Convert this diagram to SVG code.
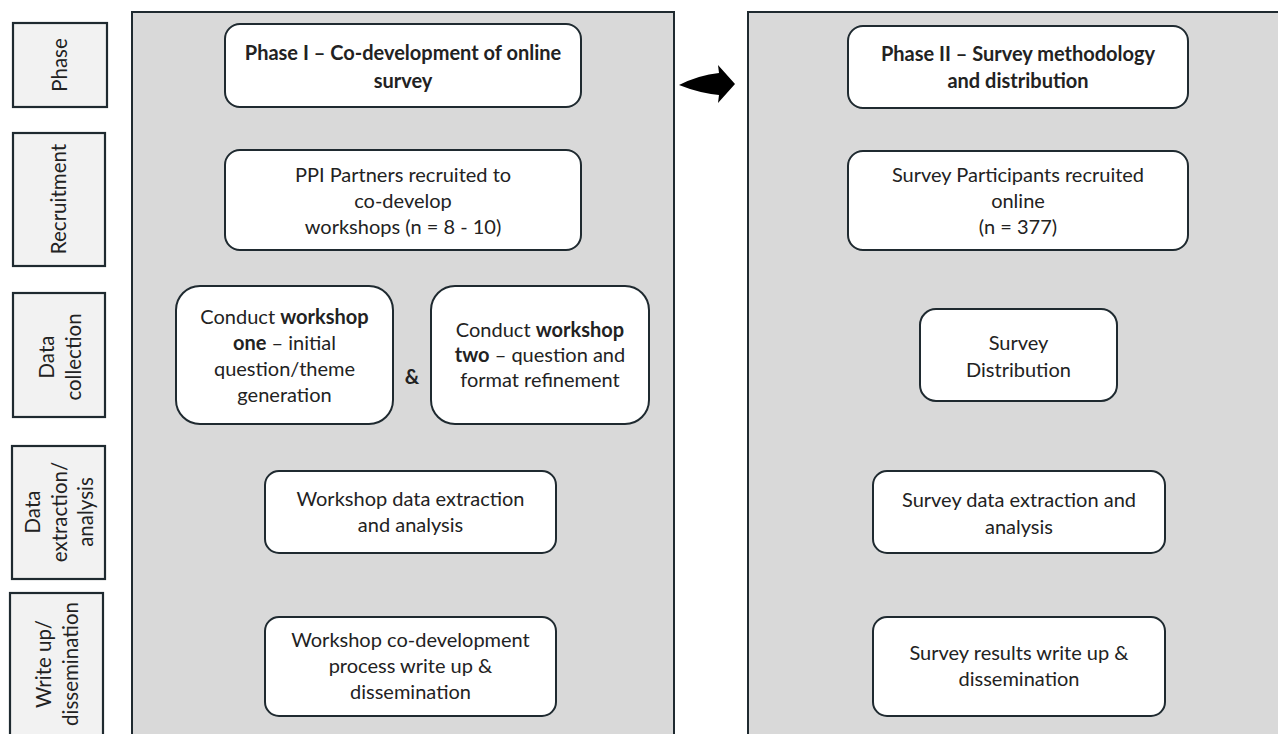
<svg xmlns="http://www.w3.org/2000/svg" width="1278" height="734" viewBox="0 0 1278 734">
<style>
.panel{fill:#d9d9d9;stroke:#1f2a30;stroke-width:2}
.lab{fill:#f2f2f2;stroke:#1f2a30;stroke-width:2.2}
.box{fill:#ffffff;stroke:#1f2a30;stroke-width:2}
text{font-family:Lato,"Open Sans",sans-serif;fill:#222;font-size:20px;text-anchor:middle}
.b{font-weight:bold}
.l{font-size:20.5px}
</style>
<rect x="0" y="0" width="1278" height="734" fill="#ffffff"/>
<g id="panel1"><rect class="panel" x="132" y="12" width="542" height="740"/></g>
<g id="panel2"><rect class="panel" x="748" y="12" width="540" height="740"/></g>

<g id="label-phase"><rect class="lab" x="13" y="23" width="94" height="84"/>
<text class="l" transform="translate(60,65) rotate(-90)" y="7">Phase</text></g>
<g id="label-recruitment"><rect class="lab" x="13" y="133" width="92" height="133"/>
<text class="l" transform="translate(59,199) rotate(-90)" y="7">Recruitment</text></g>
<g id="label-datacollection"><rect class="lab" x="13" y="293" width="92" height="124"/>
<text class="l" transform="translate(61,357) rotate(-90)"><tspan x="0" y="-7">Data</tspan><tspan x="0" y="20">collection</tspan></text></g>
<g id="label-dataextraction"><rect class="lab" x="12" y="446" width="93" height="133"/>
<text class="l" transform="translate(60,512) rotate(-90)"><tspan x="0" y="-20">Data</tspan><tspan x="0" y="7">extraction/</tspan><tspan x="0" y="33">analysis</tspan></text></g>
<g id="label-writeup"><rect class="lab" x="10" y="593" width="93" height="160"/>
<text class="l" transform="translate(58,664) rotate(-90)"><tspan x="0" y="-7">Write up/</tspan><tspan x="0" y="20">dissemination</tspan></text></g>

<g id="p1-title"><rect class="box" x="225" y="24" width="356" height="83" rx="15"/>
<text class="b"><tspan x="403" y="60">Phase I – Co-development of online</tspan><tspan x="403" y="88">survey</tspan></text></g>
<g id="p1-recruit"><rect class="box" x="225" y="150" width="356" height="100" rx="15"/>
<text><tspan x="403" y="182">PPI Partners recruited to</tspan><tspan x="403" y="208">co-develop</tspan><tspan x="403" y="234">workshops (n = 8 - 10)</tspan></text></g>
<g id="p1-ws1"><rect class="box" x="176" y="286" width="217" height="138" rx="24"/>
<text><tspan x="284.5" y="324">Conduct <tspan class="b">workshop</tspan></tspan><tspan x="284.5" y="350"><tspan class="b">one</tspan> – initial</tspan><tspan x="284.5" y="376">question/theme</tspan><tspan x="284.5" y="402">generation</tspan></text></g>
<g id="amp"><text class="b" x="412" y="384">&amp;</text></g>
<g id="p1-ws2"><rect class="box" x="431" y="286" width="218" height="138" rx="24"/>
<text><tspan x="540" y="337">Conduct <tspan class="b">workshop</tspan></tspan><tspan x="540" y="362"><tspan class="b">two</tspan> – question and</tspan><tspan x="540" y="387">format refinement</tspan></text></g>
<g id="p1-analysis"><rect class="box" x="265" y="471" width="291" height="82" rx="14"/>
<text><tspan x="410.5" y="506">Workshop data extraction</tspan><tspan x="410.5" y="532">and analysis</tspan></text></g>
<g id="p1-writeup"><rect class="box" x="265" y="617" width="291" height="99" rx="14"/>
<text><tspan x="410.5" y="647">Workshop co-development</tspan><tspan x="410.5" y="673">process write up &amp;</tspan><tspan x="410.5" y="699">dissemination</tspan></text></g>

<g id="p2-title"><rect class="box" x="848" y="26" width="340" height="82" rx="15"/>
<text class="b"><tspan x="1018" y="61">Phase II – Survey methodology</tspan><tspan x="1018" y="88">and distribution</tspan></text></g>
<g id="p2-recruit"><rect class="box" x="848" y="151" width="340" height="99" rx="15"/>
<text><tspan x="1018" y="182">Survey Participants recruited</tspan><tspan x="1018" y="208">online</tspan><tspan x="1018" y="234">(n = 377)</tspan></text></g>
<g id="p2-dist"><rect class="box" x="920" y="309" width="197" height="92" rx="16"/>
<text><tspan x="1018.5" y="350">Survey</tspan><tspan x="1018.5" y="377">Distribution</tspan></text></g>
<g id="p2-analysis"><rect class="box" x="873" y="471" width="292" height="82" rx="14"/>
<text><tspan x="1019" y="507">Survey data extraction and</tspan><tspan x="1019" y="534">analysis</tspan></text></g>
<g id="p2-writeup"><rect class="box" x="873" y="617" width="292" height="99" rx="14"/>
<text><tspan x="1019" y="660">Survey results write up &amp;</tspan><tspan x="1019" y="686">dissemination</tspan></text></g>

<g id="connectors">
<path d="M679,85 Q699,75 719,73 L718,65 L735,84 L718,103 L719,95 Q699,93 679,85 Z" fill="#000"/>
</g>
</svg>
